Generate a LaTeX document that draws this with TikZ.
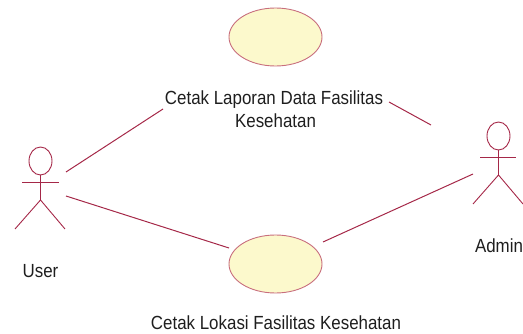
\documentclass[tikz,border=0pt]{standalone}
\usepackage{fontspec}
\setmainfont{Liberation Sans}[FakeStretch=0.89]
\usetikzlibrary{shapes.geometric}
\definecolor{umlline}{RGB}{165,40,72}
\definecolor{ucfill}{RGB}{252,249,204}
\definecolor{ucborder}{RGB}{200,110,125}
\definecolor{txt}{RGB}{30,30,30}
\begin{document}
\begin{tikzpicture}[x=1pt,y=-1pt,
  usecase/.style={ellipse,draw=ucborder,fill=ucfill,line width=0.9pt,minimum width=93pt,minimum height=58pt,inner sep=0pt},
  lbl/.style={anchor=base,inner sep=0pt,text=txt,font=\fontsize{19}{23}\selectfont},
  assoc/.style={draw=umlline,line width=1pt},
  actorline/.style={draw=umlline,line width=0.9pt}]
\useasboundingbox (0,0) rectangle (523,334);
% use cases
\node[usecase] (ucA) at (275.5,37) {};
\node[usecase] (ucB) at (275.5,264) {};
\node[lbl] (ucAl1) at (274,105) {Cetak Laporan Data Fasilitas};
\node[lbl] (ucAl2) at (275.5,128) {Kesehatan};
\node[lbl] (ucBl) at (276,330) {Cetak Lokasi Fasilitas Kesehatan};
% user actor
\draw[actorline] (40.5,161) ellipse [x radius=11.5, y radius=14];
\draw[actorline] (40.5,175) -- (40.5,200);
\draw[actorline] (22,182) -- (59,182);
\draw[actorline] (15,229) -- (40.5,200) -- (65,229);
\node[lbl] (userl) at (40.5,278) {User};
% admin actor
\draw[actorline] (498.5,136) ellipse [x radius=11.5, y radius=14];
\draw[actorline] (498.5,150) -- (498.5,175);
\draw[actorline] (480,157) -- (516,157);
\draw[actorline] (473,204) -- (498.5,175) -- (523,204);
\node[lbl] (adminl) at (499,253) {Admin};
% connector ends
\coordinate (u1) at (66,172);
\coordinate (t1) at (163,109);
\coordinate (t2) at (389,102);
\coordinate (a1) at (431,125);
\coordinate (u2) at (66,196);
\coordinate (b1) at (229,248);
\coordinate (b2) at (323,242);
\coordinate (a2) at (473,174);
\draw[assoc] (u1) -- (t1);
\draw[assoc] (t2) -- (a1);
\draw[assoc] (u2) -- (b1);
\draw[assoc] (b2) -- (a2);
\end{tikzpicture}
\end{document}
